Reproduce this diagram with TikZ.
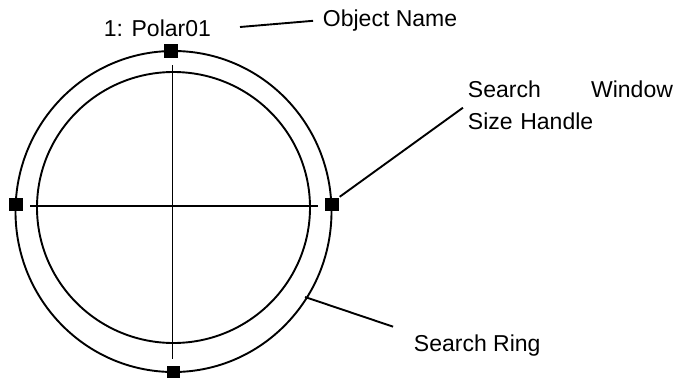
\documentclass[tikz,border=0pt]{standalone}
\usepackage{fontspec}
\setmainfont{Liberation Sans}
\begin{document}
\begin{tikzpicture}[x=1pt, y=-1pt, line width=1.9pt,
	every node/.style={font=\fontsize{23}{32}\selectfont},
	handle/.style={fill=black, inner sep=0pt, minimum size=13.5pt},
	callout/.style={inner sep=0pt}]
	\useasboundingbox (0,0) rectangle (673,378);
	\draw (173.5,211.5) ellipse [x radius=158pt, y radius=160.5pt];
	\draw (173.5,207.5) ellipse [x radius=136.5pt, y radius=135.5pt];
	\draw (172.5,65) -- (172.5,359);
	\draw (30,206) -- (318,206);
	\node[handle] (hTop) at (171,51) {};
	\node[handle] (hLeft) at (16,204.5) {};
	\node[handle] (hRight) at (332,204.5) {};
	\node[handle] (hBottom) at (173.5,373) {};
	\node[callout, anchor=base west] (title) at (103,36) {1: Polar01};
	\node[callout, anchor=base west] (objName) at (322,26) {Object Name};
	\node[callout, anchor=base west, text width=205pt, align=left] (winLabel) at (467,97) {Search\hfill Window\\Size Handle};
	\node[callout, anchor=base west] (ringLabel) at (413,351) {Search Ring};
	\coordinate (nameTip) at (240,27);
	\coordinate (ringPt) at (305,297);
	\draw (nameTip) -- (objName.west) [shorten >=9pt];
	\draw (hRight.north east) -- (winLabel.west) [shorten >=5pt];
	\draw (ringPt) -- (ringLabel.north west) [shorten >=21pt];
\end{tikzpicture}
\end{document}
